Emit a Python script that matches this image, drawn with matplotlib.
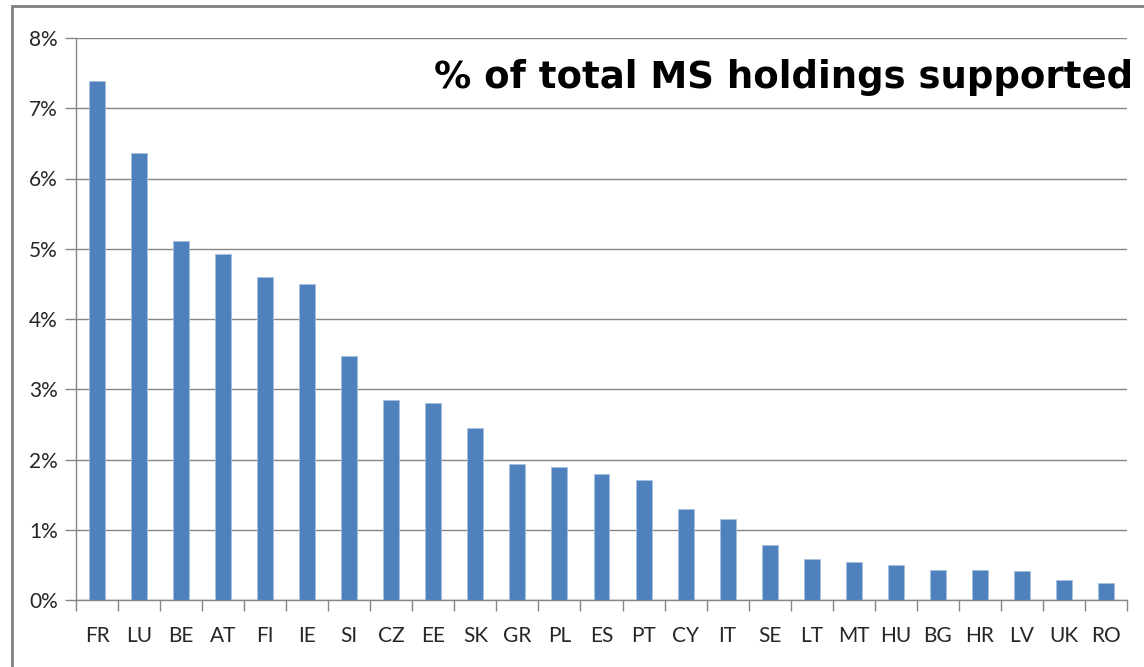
import matplotlib.pyplot as plt
import matplotlib.ticker as mticker
from matplotlib.patches import Rectangle
import numpy as np

countries = ["FR", "LU", "BE", "AT", "FI", "IE", "SI", "CZ", "EE", "SK", "GR", "PL",
             "ES", "PT", "CY", "IT", "SE", "LT", "MT", "HU", "BG", "HR", "LV", "UK", "RO"]
share = [7.39, 6.36, 5.11, 4.93, 4.60, 4.50, 3.47, 2.85, 2.80, 2.45, 1.94, 1.90,
         1.80, 1.71, 1.29, 1.16, 0.79, 0.58, 0.54, 0.50, 0.43, 0.43, 0.41, 0.29, 0.24]
y_ticks = [0, 1, 2, 3, 4, 5, 6, 7, 8]

grey = "#868686"

fig = plt.figure(figsize=(11.44, 6.67), dpi=100)
ax = fig.add_axes([76 / 1144, 67 / 667, (1127 - 76) / 1144, (600 - 38) / 667])

x = np.arange(len(countries))
ax.bar(x, share, width=0.38, color="#4F81BD", edgecolor="#A7C0DE", linewidth=0.6, zorder=3)

ax.set_xlim(-0.5, len(countries) - 0.5)
ax.set_ylim(0, 8)
ax.set_yticks(y_ticks)
ax.yaxis.set_major_formatter(mticker.FuncFormatter(lambda v, p: f"{int(v)}%"))
ax.yaxis.grid(True, color=grey, linewidth=1.0, zorder=0)

# x ticks between categories, labels centred on bars
ax.set_xticks(np.arange(-0.5, len(countries), 1.0))
ax.set_xticklabels([])
ax.set_xticks(x, minor=True)
ax.set_xticklabels(countries, minor=True)
ax.tick_params(axis="x", which="major", length=8, color=grey, width=1.0, direction="out")
ax.tick_params(axis="x", which="minor", length=0, pad=19, labelsize=15, labelcolor="#262626")
ax.tick_params(axis="y", length=8, color=grey, width=1.0, pad=5, labelsize=15, labelcolor="#262626")
for lab in ax.get_xticklabels(minor=True) + ax.get_yticklabels():
    lab.set_family("Lato")

for s in ["top", "right"]:
    ax.spines[s].set_visible(False)
for s in ["left", "bottom"]:
    ax.spines[s].set_color(grey)
    ax.spines[s].set_linewidth(1.0)

fig.text(1133 / 1144, 1 - 78 / 667, "% of total MS holdings supported",
         ha="right", va="center", fontsize=26.7, fontweight="bold", color="black",
         family="DejaVu Sans")

# outer frame (top and left edges visible)
fig.patches.append(Rectangle((12 / 1144, -0.1), 1.2, 1 - 6 / 667 + 0.1,
                             transform=fig.transFigure, fill=False,
                             edgecolor="#808080", linewidth=2.0))

fig.savefig("out.png", dpi=100)
